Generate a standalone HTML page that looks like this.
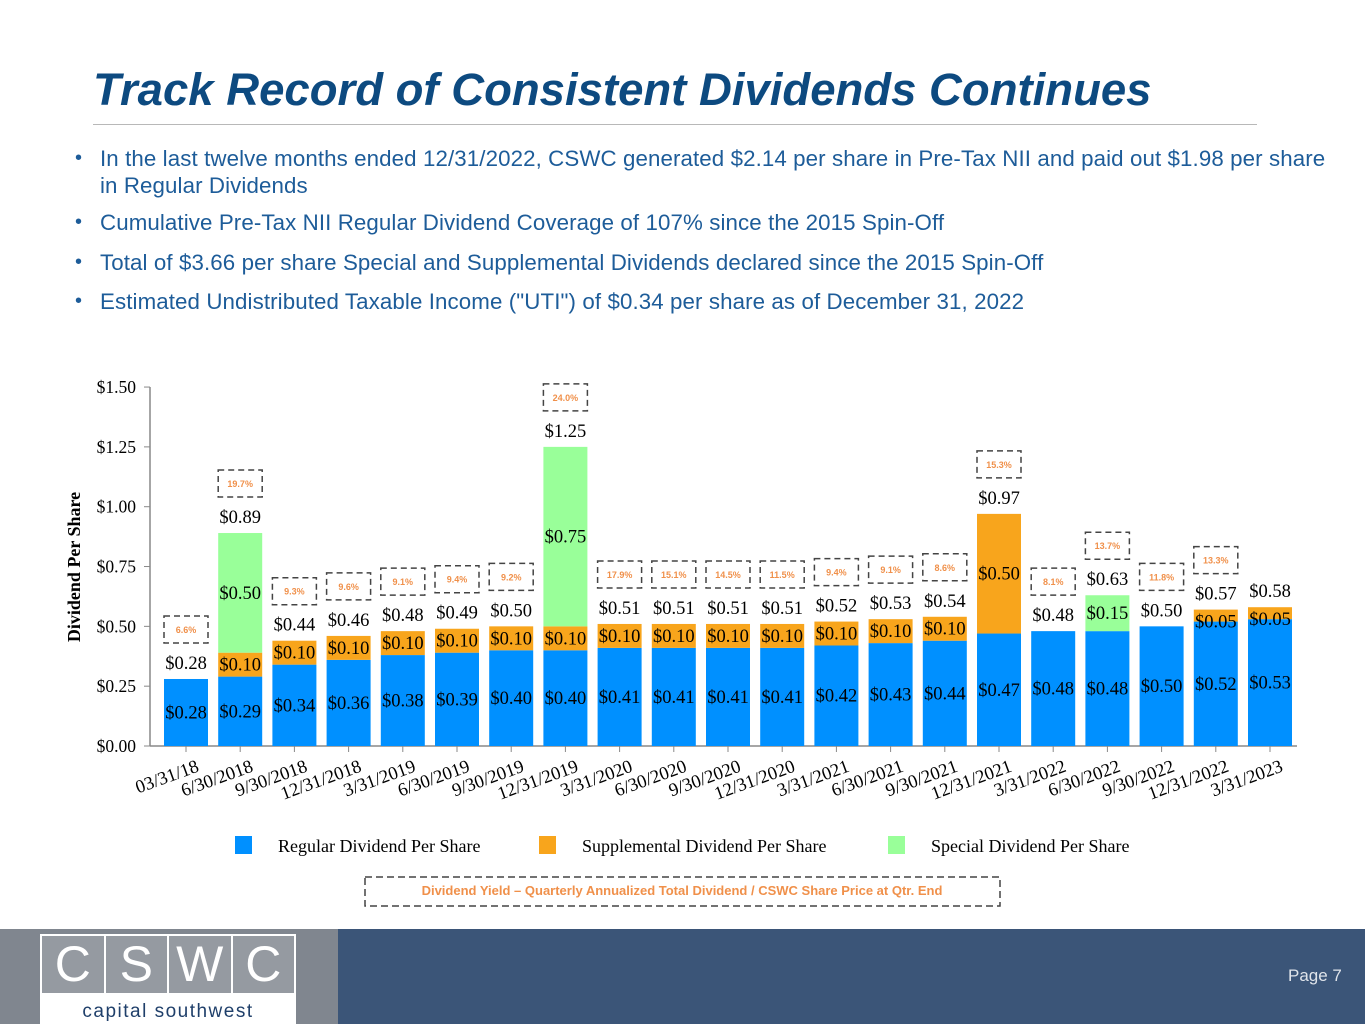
<!DOCTYPE html>
<html><head><meta charset="utf-8"><style>
body{margin:0;width:1365px;height:1024px;overflow:hidden;background:#fff;font-family:"Liberation Sans",sans-serif;position:relative}
.abs{position:absolute}
#title{left:93px;top:64px;font-size:45.5px;font-weight:bold;font-style:italic;color:#0d4a80;white-space:nowrap}
#rule{left:93px;top:124px;width:1164px;height:1px;background:#b8b8b8}
.bul{left:75px;font-size:20px;color:#1d5c99;line-height:27px;width:1270px}
.bul span{position:absolute;left:25px;width:1245px;font-size:22.3px;letter-spacing:0.1px;white-space:normal}
</style></head><body>
<div class="abs" id="title">Track Record of Consistent Dividends Continues</div>
<div class="abs" id="rule"></div>
<div class="abs bul" style="top:145px">•<span>In the last twelve months ended 12/31/2022, CSWC generated $2.14 per share in Pre-Tax NII and paid out $1.98 per share in Regular Dividends</span></div>
<div class="abs bul" style="top:209px">•<span>Cumulative Pre-Tax NII Regular Dividend Coverage of 107% since the 2015 Spin-Off</span></div>
<div class="abs bul" style="top:249px">•<span>Total of $3.66 per share Special and Supplemental Dividends declared since the 2015 Spin-Off</span></div>
<div class="abs bul" style="top:288px">•<span>Estimated Undistributed Taxable Income ("UTI") of $0.34 per share as of December 31, 2022</span></div>

<svg class="abs" style="left:0;top:0" width="1365" height="930" id="chart"></svg>

<div class="abs" style="left:0;top:929px;width:338px;height:95px;background:#80868f"></div>
<div class="abs" style="left:338px;top:929px;width:1027px;height:95px;background:#3b5578"></div>
<div class="abs" style="left:40px;top:934px;width:256px;height:90px;background:#fff">
 <div style="display:flex;gap:2px;padding:2px;height:57px">
  <div style="flex:1;background:#959aa1;color:#fff;font-size:50px;text-align:center;line-height:57px">C</div>
  <div style="flex:1;background:#959aa1;color:#fff;font-size:50px;text-align:center;line-height:57px">S</div>
  <div style="flex:1;background:#959aa1;color:#fff;font-size:50px;text-align:center;line-height:57px">W</div>
  <div style="flex:1;background:#959aa1;color:#fff;font-size:50px;text-align:center;line-height:57px">C</div>
 </div>
 <div style="text-align:center;color:#1f3f6a;font-size:19px;letter-spacing:1.5px;margin-top:6px">capital southwest</div>
</div>
<div class="abs" style="left:1288px;top:966px;color:#dfe4ea;font-size:17px">Page 7</div>

<script>
const categories=["03/31/18","6/30/2018","9/30/2018","12/31/2018","3/31/2019","6/30/2019","9/30/2019","12/31/2019","3/31/2020","6/30/2020","9/30/2020","12/31/2020","3/31/2021","6/30/2021","9/30/2021","12/31/2021","3/31/2022","6/30/2022","9/30/2022","12/31/2022","3/31/2023"];
const regular=[0.28,0.29,0.34,0.36,0.38,0.39,0.40,0.40,0.41,0.41,0.41,0.41,0.42,0.43,0.44,0.47,0.48,0.48,0.50,0.52,0.53];
const supplemental=[0,0.10,0.10,0.10,0.10,0.10,0.10,0.10,0.10,0.10,0.10,0.10,0.10,0.10,0.10,0.50,0,0,0,0.05,0.05];
const special=[0,0.50,0,0,0,0,0,0.75,0,0,0,0,0,0,0,0,0,0.15,0,0,0];
const totals=["$0.28","$0.89","$0.44","$0.46","$0.48","$0.49","$0.50","$1.25","$0.51","$0.51","$0.51","$0.51","$0.52","$0.53","$0.54","$0.97","$0.48","$0.63","$0.50","$0.57","$0.58"];
const yields=["6.6%","19.7%","9.3%","9.6%","9.1%","9.4%","9.2%","24.0%","17.9%","15.1%","14.5%","11.5%","9.4%","9.1%","8.6%","15.3%","8.1%","13.7%","11.8%","13.3%",null];
const yTicks=[0,0.25,0.5,0.75,1.0,1.25,1.5];

const svg=document.getElementById('chart');const NS="http://www.w3.org/2000/svg";
function mk(t,a,p){const e=document.createElementNS(NS,t);for(const k in a)e.setAttribute(k,a[k]);(p||svg).appendChild(e);return e;}
const x0=150,x1=1297,y0=746,pxPer=239.3;
const y=v=>y0-v*pxPer;
const x=i=>186+i*54.2;
const bw=44;
const serif='"Liberation Serif",serif';
yTicks.forEach(v=>{
 const t=mk('line',{x1:x0-6,x2:x0,y1:y(v),y2:y(v),stroke:'#888'});
 
 const l=mk('text',{x:x0-14,y:y(v)+6,'text-anchor':'end','font-family':serif,'font-size':17.5,fill:'#000'});l.textContent='$'+v.toFixed(2);
 
});
let ax=mk('line',{x1:x0,x2:x0,y1:y(1.5),y2:y0,stroke:'#888','stroke-width':1.5});

ax=mk('line',{x1:x0,x2:x1,y1:y0,y2:y0,stroke:'#888','stroke-width':1.5});

const yt=mk('text',{x:0,y:0,transform:'translate(80,567) rotate(-90)','text-anchor':'middle','font-family':serif,'font-size':18,'font-weight':'bold'});yt.textContent='Dividend Per Share';

function lbl(txt,cx,cy,name){const t=mk('text',{x:cx,y:cy,'text-anchor':'middle','font-family':serif,'font-size':18.5,fill:'#000'});t.textContent=txt;}
categories.forEach((c,i)=>{
 const cx=x(i);
 let base=0;
 const segs=[[regular[i],'#0090ff','regular'],[supplemental[i],'#f8a51c','supplemental'],[special[i],'#99ff99','special']];
 segs.forEach(([v,col,n])=>{
  if(v<=0)return;
  const r=mk('rect',{x:cx-bw/2,y:y(base+v),width:bw,height:v*pxPer,fill:col});
  
  const mid=y(base+v/2);
  lbl('$'+v.toFixed(2),cx,Math.max(mid+6,y(base+v)+(v<0.08?18:6)) ,n+'-label');
  base+=v;
 });
 const top=y(base);
 lbl(totals[i],cx,top-10,'total-label');
 if(yields[i]){
  const g=mk('g',{});
  
  mk('rect',{x:cx-22,y:top-63,width:44,height:27,fill:'none',stroke:'#444','stroke-width':1.5,'stroke-dasharray':'6,4'},g);
  const t=mk('text',{x:cx,y:top-46,'text-anchor':'middle','font-size':9,'font-weight':'bold',fill:'#f0904a'},g);t.textContent=yields[i];
 }
 const tk=mk('line',{x1:cx,x2:cx,y1:y0,y2:y0+6,stroke:'#888'});
 
 const xl=mk('text',{x:0,y:0,transform:`translate(${cx+14},${y0+25}) rotate(-20)`,'text-anchor':'end','font-family':serif,'font-size':18.5});xl.textContent=c;
 
});
[['Regular Dividend Per Share','#0090ff',235],['Supplemental Dividend Per Share','#f8a51c',539],['Special Dividend Per Share','#99ff99',888]].forEach(([t,c,lx])=>{
 const g=mk('g',{});
 mk('rect',{x:lx,y:836,width:17,height:18,fill:c},g);
 const tx=mk('text',{x:lx+43,y:852,'font-family':serif,'font-size':18},g);tx.textContent=t;
});
const yb=mk('g',{});
mk('rect',{x:365,y:877,width:635,height:29,fill:'none',stroke:'#444','stroke-width':1.5,'stroke-dasharray':'7,4'},yb);
const nt=mk('text',{x:682,y:895,'text-anchor':'middle','font-size':13,'font-weight':'bold',fill:'#f0904a'},yb);nt.textContent='Dividend Yield – Quarterly Annualized Total Dividend / CSWC Share Price at Qtr. End';
</script>
</body></html>
